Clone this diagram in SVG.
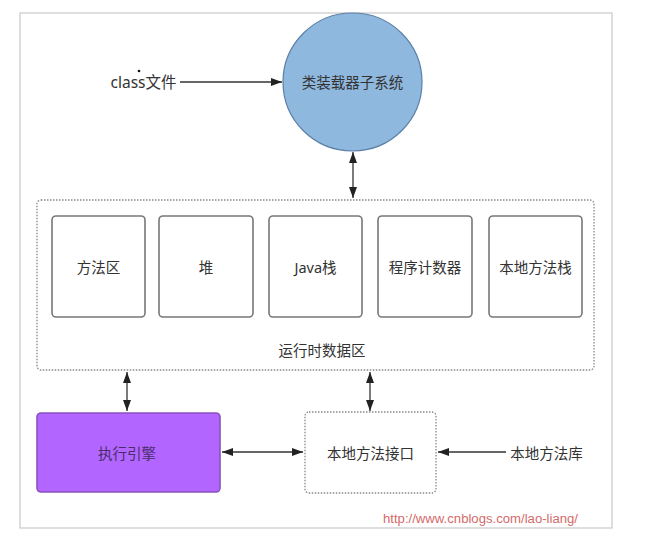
<svg xmlns="http://www.w3.org/2000/svg" width="654" height="540" viewBox="0 0 654 540">
<style>
text{font-family:"Noto Sans","Noto Sans CJK SC",sans-serif;font-size:14.5px;fill:#333;text-anchor:middle;dominant-baseline:central}
.box{fill:#fff;stroke:#777;stroke-width:1.6}
.dot{fill:#fff;stroke:#888;stroke-width:1.3;stroke-dasharray:1.5 1.5}
.ln{stroke:#333;stroke-width:1.3;fill:none}
</style>
<defs>
<marker id="ah" viewBox="0 0 11 10" refX="11" refY="5" markerWidth="11" markerHeight="10" markerUnits="userSpaceOnUse" orient="auto-start-reverse">
<path d="M0,1 L11,5 L0,9 Z" fill="#222"/>
</marker>
</defs>
<rect x="0" y="0" width="654" height="540" fill="#fff"/>
<rect x="20" y="13" width="592" height="515" fill="none" stroke="#c8c8c8" stroke-width="1.2"/>

<g id="class-file">
<text x="143.5" y="82" font-size="15.5" style="font-size:15.5px">class文件</text>
<circle cx="139" cy="71" r="1.3" fill="#111"/>
</g>

<g id="loader">
<ellipse cx="352.5" cy="82" rx="69.5" ry="69" fill="#8fb8de" stroke="#5b7fa6" stroke-width="1.2"/>
<text x="352.5" y="82">类装载器子系统</text>
</g>

<g id="runtime-area">
<rect class="dot" x="37" y="200" width="557" height="170" rx="4"/>
<text x="322" y="350">运行时数据区</text>
</g>
<g id="method-area"><rect class="box" x="52" y="216" width="93" height="101" rx="4"/><text x="98.5" y="267">方法区</text></g>
<g id="heap"><rect class="box" x="159" y="216" width="94" height="101" rx="4"/><text x="206" y="267">堆</text></g>
<g id="java-stack"><rect class="box" x="269" y="216" width="93" height="101" rx="4"/><text x="315.5" y="267">Java栈</text></g>
<g id="pc"><rect class="box" x="378" y="216" width="94" height="101" rx="4"/><text x="425" y="267">程序计数器</text></g>
<g id="native-stack"><rect class="box" x="489" y="216" width="93" height="101" rx="4"/><text x="535.5" y="267">本地方法栈</text></g>

<g id="engine">
<rect x="37" y="413" width="183" height="79" rx="4" fill="#b266ff" stroke="#8a52c0" stroke-width="1.6"/>
<text x="127" y="453" style="fill:#4a2c6a">执行引擎</text>
</g>

<g id="native-interface">
<rect class="dot" x="305" y="412" width="131" height="81" rx="4"/>
<text x="370.5" y="453">本地方法接口</text>
</g>

<g id="native-lib">
<text x="546.5" y="453">本地方法库</text>
</g>

<g id="connectors">
<line class="ln" x1="180" y1="82" x2="282" y2="82" marker-end="url(#ah)"/>
<line class="ln" x1="353" y1="152" x2="353" y2="198" marker-start="url(#ah)" marker-end="url(#ah)"/>
<line class="ln" x1="127" y1="372" x2="127" y2="411" marker-start="url(#ah)" marker-end="url(#ah)"/>
<line class="ln" x1="370" y1="372" x2="370" y2="411" marker-start="url(#ah)" marker-end="url(#ah)"/>
<line class="ln" x1="222" y1="452" x2="303" y2="452" marker-start="url(#ah)" marker-end="url(#ah)"/>
<line class="ln" x1="506" y1="452" x2="438" y2="452" marker-end="url(#ah)"/>
</g>

<text x="480.5" y="519" style="fill:#d46a6a;font-family:'Liberation Sans',sans-serif;font-size:12.5px" textLength="195" lengthAdjust="spacingAndGlyphs">http://www.cnblogs.com/lao-liang/</text>
</svg>
